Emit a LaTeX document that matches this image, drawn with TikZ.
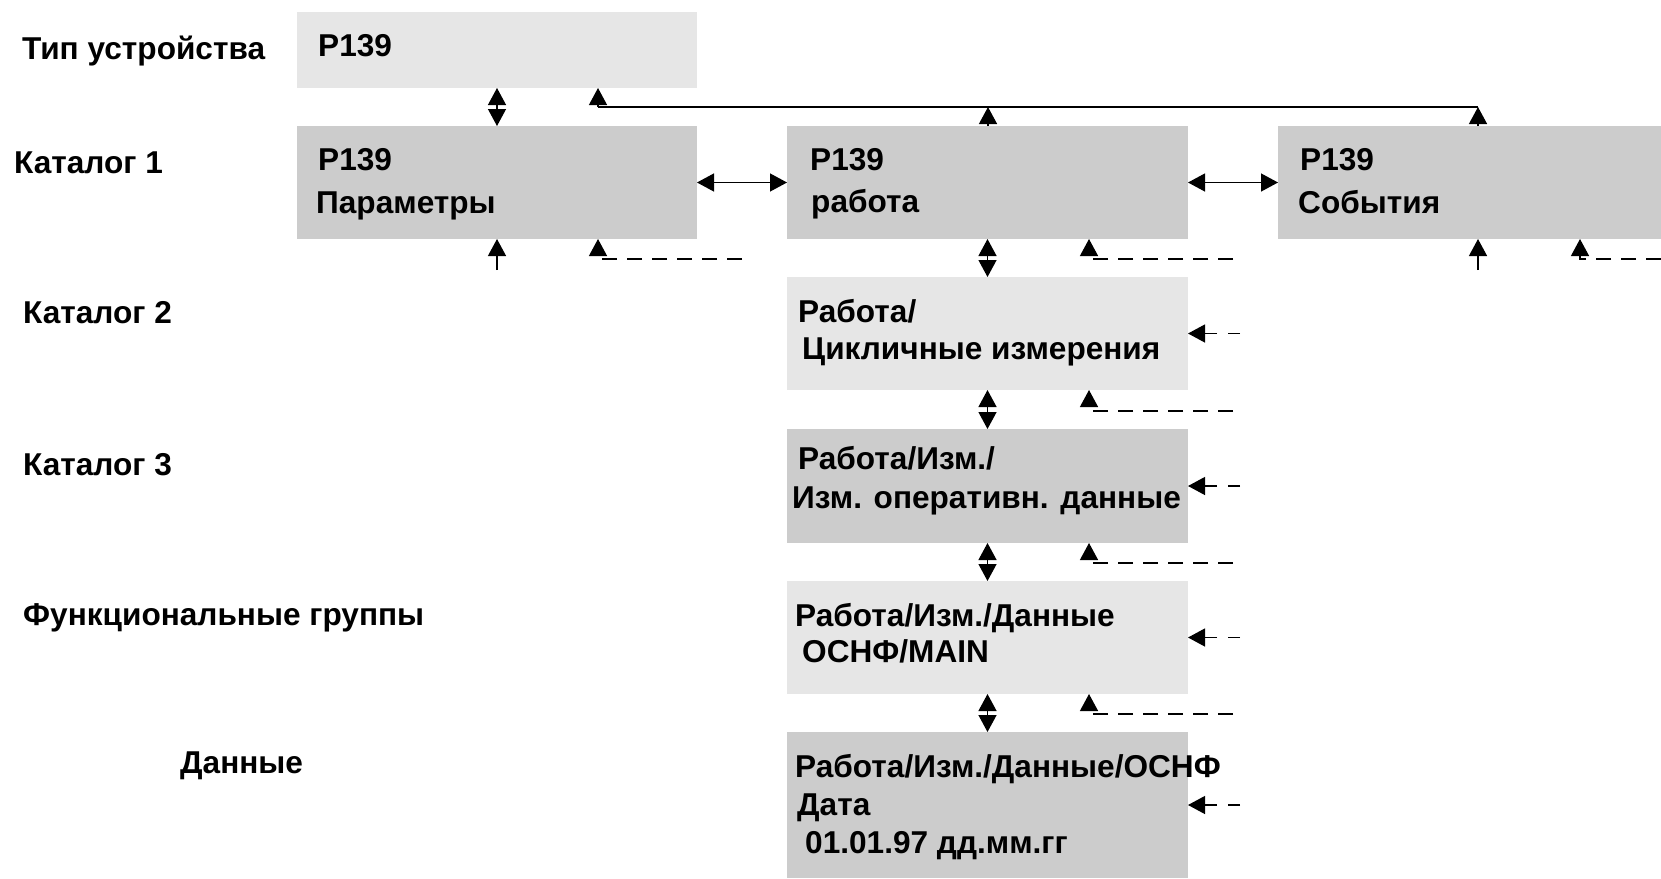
\documentclass[tikz,border=0pt]{standalone}
\usepackage{fontspec}
\setmainfont{Liberation Sans}
\usetikzlibrary{arrows.meta}
\definecolor{lightbox}{HTML}{E6E6E6}
\definecolor{darkbox}{HTML}{CCCCCC}
\tikzset{
  box/.style={rectangle, inner sep=0pt, outer sep=0pt, anchor=north west, draw=none},
  lightfill/.style={fill=lightbox},
  darkfill/.style={fill=darkbox},
  txt/.style={anchor=base west, inner sep=0pt, font=\bfseries\fontsize{31.6}{37}\selectfont},
  arr/.style={line width=1.3pt, -{Triangle[width=18pt,length=17pt]}},
  darr/.style={line width=1.3pt, {Triangle[width=18pt,length=17pt]}-{Triangle[width=18pt,length=17pt]}},
  dsh/.style={line width=1.3pt, dash pattern=on 15pt off 10pt, -{Triangle[width=18pt,length=17pt]}},
  sarr/.style={line width=1.3pt, dash pattern=on 12pt off 11pt on 60pt, -{Triangle[width=18pt,length=17pt]}},
  plain/.style={line width=1.3pt}
}
\begin{document}
\begin{tikzpicture}[x=1pt,y=-1pt]
\useasboundingbox (0,0) rectangle (1661,878);
% boxes
\node[box, lightfill, minimum width=400pt, minimum height=76pt] (T) at (297,12) {};
\node[box, darkfill, minimum width=400pt, minimum height=113pt] (P) at (297,126) {};
\node[box, darkfill, minimum width=401pt, minimum height=113pt] (R) at (787,126) {};
\node[box, darkfill, minimum width=384pt, minimum height=113pt] (S) at (1278,126) {};
\node[box, lightfill, minimum width=401pt, minimum height=113pt] (C2) at (787,277) {};
\node[box, darkfill, minimum width=401pt, minimum height=114pt] (C3) at (787,429) {};
\node[box, lightfill, minimum width=401pt, minimum height=113pt] (C4) at (787,581) {};
\node[box, darkfill, minimum width=401pt, minimum height=146pt] (C5) at (787,732) {};
% left labels
\node[txt] (l0) at (22,59) {Тип устройства};
\node[txt] (l1) at (14,173) {Каталог 1};
\node[txt] (l2) at (23,323) {Каталог 2};
\node[txt] (l3) at (23,475) {Каталог 3};
\node[txt] (l4) at (23,625) {Функциональные группы};
\node[txt] (l5) at (180,773) {Данные};
% box texts
\node[txt] (tT) at (318,56) {P139};
\node[txt] (tP1) at (318,170) {P139};
\node[txt] (tP2) at (316,213) {Параметры};
\node[txt] (tR1) at (810,170) {P139};
\node[txt] (tR2) at (811,212) {работа};
\node[txt] (tS1) at (1300,170) {P139};
\node[txt] (tS2) at (1298,213) {События};
\node[txt] (tC2a) at (798,322) {Работа/};
\node[txt] (tC2b) at (802,359) {Цикличные измерения};
\node[txt] (tC3a) at (798,469) {Работа/Изм./};
\node[txt] (tC3b) at (792,508) {Изм. оперативн. данные};
\node[txt] (tC4a) at (795,626) {Работа/Изм./Данные};
\node[txt] (tC4b) at (802,662) {ОСНФ/MAIN};
\node[txt] (tC5a) at (795,777) {Работа/Изм./Данные/ОСНФ};
\node[txt] (tC5b) at (797,815) {Дата};
\node[txt] (tC5c) at (805,853) {01.01.97 дд.мм.гг};
% top feedback line
\coordinate (Lt) at (598,107);
\coordinate (Lr) at (988,107);
\coordinate (Ls) at (1478,107);
\draw[plain] (Lt) -- (Ls);
\draw[arr] (Lt) -- (Lt |- T.south);
\draw[arr] (Lr |- R.north) -- (Lr);
\draw[arr] (Ls |- S.north) -- (Ls);
% vertical double arrows
\draw[darr] ([xshift=200pt]T.south west) -- ([xshift=200pt]P.north west);
\draw[darr] (R.south) -- (C2.north);
\draw[darr] (C2.south) -- (C3.north);
\draw[darr] (C3.south) -- (C4.north);
\draw[darr] (C4.south) -- (C5.north);
% horizontal double arrows
\draw[darr] (P.east) -- (R.west);
\draw[darr] (R.east) -- (S.west);
% up arrows from below
\coordinate (pin) at (497,270);
\coordinate (sin) at (1478,270);
\draw[arr] (pin) -- (pin |- P.south);
\draw[arr] (sin) -- (sin |- S.south);
% dashed returns
\coordinate (pd) at (742,259);
\coordinate (rd) at (1233,259);
\coordinate (sd) at (1661,259);
\coordinate (c2d) at (1233,411);
\coordinate (c3d) at (1233,563);
\coordinate (c4d) at (1233,714);
\draw[dsh] (pd) -| ([xshift=301pt]P.south west);
\draw[dsh] (rd) -| ([xshift=302pt]R.south west);
\draw[dsh] (sd) -| ([xshift=302pt]S.south west);
\draw[dsh] (c2d) -| ([xshift=302pt]C2.south west);
\draw[dsh] (c3d) -| ([xshift=302pt]C3.south west);
\draw[dsh] (c4d) -| ([xshift=302pt]C4.south west);
% side entry arrows
\draw[sarr] ([xshift=52pt]C2.east) -- (C2.east);
\draw[sarr] ([xshift=52pt]C3.east) -- (C3.east);
\draw[sarr] ([xshift=52pt]C4.east) -- (C4.east);
\draw[sarr] ([xshift=52pt]C5.east) -- (C5.east);
\end{tikzpicture}
\end{document}
